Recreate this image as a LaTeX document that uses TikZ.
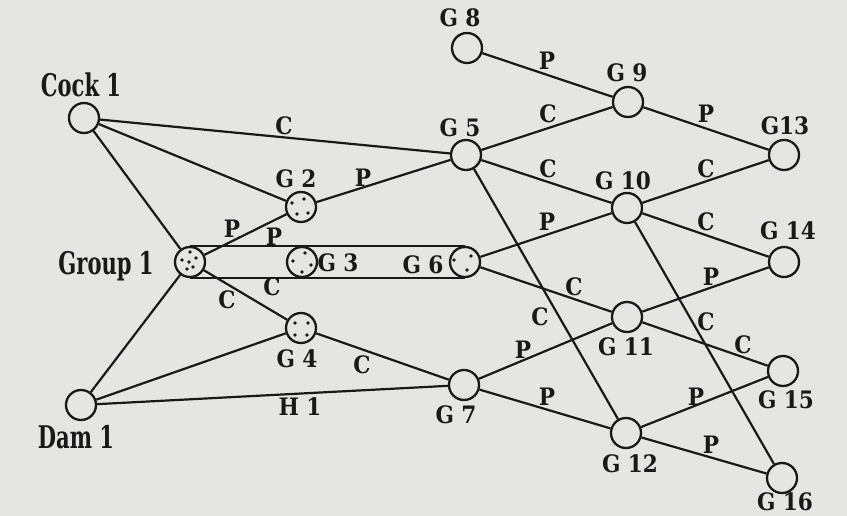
\documentclass[tikz,border=0pt]{standalone}
\usepackage{fontspec}
\setmainfont{DejaVu Serif Condensed}
\usetikzlibrary{calc}
\definecolor{ink}{RGB}{25,25,25}
\definecolor{bg}{RGB}{229,229,228}
\newcommand{\tallname}[1]{\scalebox{0.9}[1.2]{#1}}
\begin{document}
\begin{tikzpicture}[x=1pt,y=-1pt,
  gn/.style={circle,draw=ink,line width=2.3pt,minimum size=30pt,inner sep=0pt,fill=bg},
  lbl/.style={font=\fontsize{24}{24}\selectfont\bfseries,text=ink,inner sep=0pt,anchor=base},
  nm/.style={font=\fontsize{26}{26}\selectfont\bfseries,text=ink,inner sep=0pt,anchor=base},
  ed/.style={draw=ink,line width=2.2pt},
  pt/.style={circle,fill=ink,inner sep=0pt,minimum size=3.6pt}]
\fill[bg] (0,0) rectangle (847,516);
\useasboundingbox (0,0) rectangle (847,516);
% nodes
\node[gn] (cock) at (84,118) {};
\node[gn] (grp) at (190,262) {};
\node[gn] (dam) at (81,405) {};
\node[gn] (g2) at (301,207) {};
\node[gn] (g4) at (301,328) {};
\node[gn] (g5) at (466,155) {};
\node[gn] (g6) at (465,262) {};
\node[gn] (g7) at (464,385) {};
\node[gn] (g8) at (467,48) {};
\node[gn] (g9) at (628,102) {};
\node[gn] (g10) at (627,208) {};
\node[gn] (g11) at (627,317) {};
\node[gn] (g12) at (626,433) {};
\node[gn] (g13) at (784,155) {};
\node[gn] (g14) at (784,262) {};
\node[gn] (g15) at (783,371) {};
\node[gn] (g16) at (782,478) {};
% connectors
\draw[ed] (cock) -- (g5);
\draw[ed] (cock) -- (g2);
\draw[ed] (cock) -- (grp);
\draw[ed] (grp) -- (g2);
\draw[ed] (grp.north) -- (g6.north);
\draw[ed] (grp.south) -- (g6.south);
\draw[ed] (grp) -- (g4);
\draw[ed] (dam) -- (grp);
\draw[ed] (dam) -- (g4);
\draw[ed] (dam) -- (g7);
\draw[ed] (g2) -- (g5);
\draw[ed] (g4) -- (g7);
\draw[ed] (g8) -- (g9);
\draw[ed] (g5) -- (g9);
\draw[ed] (g5) -- (g10);
\draw[ed] (g5) -- (g12);
\draw[ed] (g6) -- (g10);
\draw[ed] (g6) -- (g11);
\draw[ed] (g7) -- (g11);
\draw[ed] (g7) -- (g12);
\draw[ed] (g9) -- (g13);
\draw[ed] (g10) -- (g13);
\draw[ed] (g10) -- (g14);
\draw[ed] (g10) -- (g16);
\draw[ed] (g11) -- (g14);
\draw[ed] (g11) -- (g15);
\draw[ed] (g12) -- (g15);
\draw[ed] (g12) -- (g16);
\node[gn] (g3) at (302,262) {};
% dots
\foreach \dx/\dy in {0/-10,-8/-2,-1/0,6/-4,-3/7,3/5} \node[pt] at ([shift={(\dx,\dy)}]grp.center) {};
\foreach \dx/\dy in {-9/-4,3/-8,-4/7,7/6} \node[pt] at ([shift={(\dx,\dy)}]g2.center) {};
\foreach \dx/\dy in {3/-9,-9/-1,9/3,0/10} \node[pt] at ([shift={(\dx,\dy)}]g3.center) {};
\foreach \dx/\dy in {-11/-2,6/-6,2/8} \node[pt] at ([shift={(\dx,\dy)}]g6.center) {};
\foreach \dx/\dy in {-6/-5,7/-5,-6/7,6/7} \node[pt] at ([shift={(\dx,\dy)}]g4.center) {};
% names
\node[nm] (lcock) at (81,97) {\tallname{Cock 1}};
\node[nm] (lgrp) at (106,275) {\tallname{Group 1}};
\node[nm] (ldam) at (76,448) {\tallname{Dam 1}};
\node[lbl] (lg2) at (296,188) {G 2};
\node[lbl] (lg3) at (338,272) {G 3};
\node[lbl] (lg4) at (297,367) {G 4};
\node[lbl] (lg5) at (460,137) {G 5};
\node[lbl] (lg6) at (423,273) {G 6};
\node[lbl] (lg7) at (456,423) {G 7};
\node[lbl] (lg8) at (460,27) {G 8};
\node[lbl] (lg9) at (627,82) {G 9};
\node[lbl] (lg10) at (623,190) {G 10};
\node[lbl] (lg11) at (626,355) {G 11};
\node[lbl] (lg12) at (630,472) {G 12};
\node[lbl] (lg13) at (785,135) {G13};
\node[lbl] (lg14) at (788,240) {G 14};
\node[lbl] (lg15) at (786,408) {G 15};
\node[lbl] (lg16) at (785,510) {G 16};
% edge labels
\node[lbl] (e1) at (284,135) {C};
\node[lbl] (e2) at (363,187) {P};
\node[lbl] (e3) at (547,70) {P};
\node[lbl] (e4) at (548,123) {C};
\node[lbl] (e5) at (548,178) {C};
\node[lbl] (e6) at (547,230) {P};
\node[lbl] (e7) at (232,237) {P};
\node[lbl] (e8) at (274,245) {P};
\node[lbl] (e9) at (272,295) {C};
\node[lbl] (e10) at (227,308) {C};
\node[lbl] (e11) at (300,415) {H 1};
\node[lbl] (e12) at (362,373) {C};
\node[lbl] (e13) at (540,325) {C};
\node[lbl] (e14) at (523,358) {P};
\node[lbl] (e15) at (547,405) {P};
\node[lbl] (e16) at (706,123) {P};
\node[lbl] (e17) at (706,178) {C};
\node[lbl] (e18) at (706,230) {C};
\node[lbl] (e19) at (711,285) {P};
\node[lbl] (e20) at (706,330) {C};
\node[lbl] (e21) at (743,353) {C};
\node[lbl] (e22) at (574,295) {C};
\node[lbl] (e23) at (696,405) {P};
\node[lbl] (e24) at (711,453) {P};
\end{tikzpicture}
\end{document}
